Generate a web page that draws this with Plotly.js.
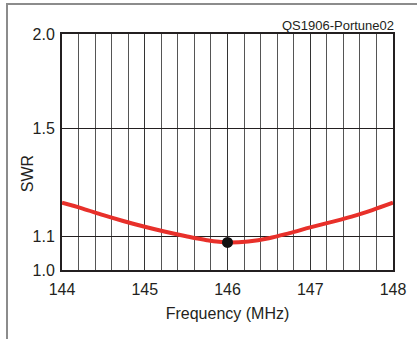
<!DOCTYPE html>
<html>
<head>
<meta charset="utf-8">
<script src="https://cdn.plot.ly/plotly-3.0.1.min.js"></script>
<style>
  html, body { margin: 0; padding: 0; background: #fff; }
  #wrap { position: relative; width: 417px; height: 339px; overflow: hidden; }
  #frame { position: absolute; left: 6px; top: 3px; width: 420px; height: 345px;
           border-top: 2px solid #8c8c8c; border-left: 2px solid #8c8c8c; box-sizing: border-box; pointer-events: none; z-index: 5; }
  #chart { position: absolute; left: 0; top: 0; width: 417px; height: 339px; }
</style>
</head>
<body>
<div id="wrap">
  <div id="chart"></div>
  <div id="frame"></div>
</div>
<script>
// Data
const freqMHz = [144.0, 144.25, 144.5, 144.75, 145.0, 145.25, 145.5, 145.75, 146.0, 146.25, 146.5, 146.75, 147.0, 147.25, 147.5, 147.75, 148.0];
const swr     = [1.21, 1.19, 1.168, 1.148, 1.130, 1.114, 1.100, 1.088, 1.081, 1.084, 1.094, 1.110, 1.128, 1.145, 1.163, 1.185, 1.21];
const markerFreq = [146.0];
const markerSwr  = [1.081];
const xTickVals = [144, 145, 146, 147, 148];
const xTickText = ['144', '145', '146', '147', '148'];
const yTickSwr  = [1.0, 1.1, 1.5, 2.0];
const yTickText = ['1.0', '1.1', '1.5', '2.0'];
const xTitle = 'Frequency (MHz)';
const yTitle = 'SWR';
const sourceLabel = 'QS1906-Portune02';

// SWR chart scale: vertical axis is linear in reflection coefficient (SWR-1)/(SWR+1)
const toRho = s => (s - 1) / (s + 1);

const txt = '#231f20';
const font = { family: 'Liberation Sans, Arial, Helvetica, sans-serif', size: 16, color: txt };

const traces = [
  {
    x: freqMHz, y: swr.map(toRho), type: 'scatter', mode: 'lines',
    line: { color: '#e8302a', width: 4, shape: 'spline', smoothing: 1 },
    hoverinfo: 'skip'
  },
  {
    x: markerFreq, y: markerSwr.map(toRho), type: 'scatter', mode: 'markers',
    marker: { color: '#111', size: 11 },
    hoverinfo: 'skip'
  }
];

const layout = {
  width: 417, height: 339,
  margin: { l: 62, r: 24, t: 34, b: 69 },
  paper_bgcolor: 'rgba(0,0,0,0)', plot_bgcolor: '#fff',
  showlegend: false,
  font: font,
  xaxis: {
    range: [144, 148],
    tickmode: 'array', tickvals: xTickVals, ticktext: xTickText,
    ticks: '', ticklabelstandoff: 4,
    showgrid: true, gridcolor: '#333', gridwidth: 1,
    minor: { dtick: 0.2, showgrid: true, gridcolor: '#555', gridwidth: 1, ticks: '' },
    showline: true, mirror: true, linecolor: '#231f20', linewidth: 2,
    zeroline: false,
    tickfont: font,
    title: { text: xTitle, font: font, standoff: 11 }
  },
  yaxis: {
    range: [0, toRho(2.0)],
    tickmode: 'array', tickvals: yTickSwr.map(toRho), ticktext: yTickText,
    ticks: '', ticklabelstandoff: 2,
    showgrid: true, gridcolor: '#231f20', gridwidth: 1,
    showline: true, mirror: true, linecolor: '#231f20', linewidth: 2,
    zeroline: false,
    tickfont: font
  },
  annotations: [
    {
      text: sourceLabel, xref: 'paper', yref: 'paper', x: 1, y: 1,
      xanchor: 'right', yanchor: 'bottom', showarrow: false, yshift: -1, xshift: 3,
      font: { family: font.family, size: 13, color: txt }
    },
    {
      text: yTitle, xref: 'paper', yref: 'paper', x: -0.106, y: 0.41,
      xanchor: 'center', yanchor: 'middle', textangle: -90, showarrow: false,
      font: font
    }
  ]
};

Plotly.newPlot('chart', traces, layout, { displayModeBar: false, staticPlot: true });
</script>
</body>
</html>
